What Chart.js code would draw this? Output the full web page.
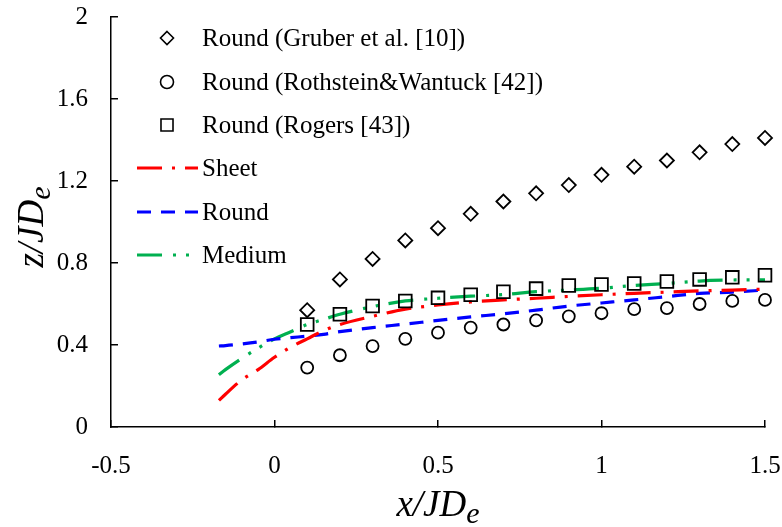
<!DOCTYPE html>
<html>
<head>
<meta charset="utf-8">
<script src="https://cdn.jsdelivr.net/npm/chart.js@4/dist/chart.umd.min.js"></script>
<style>
  html, body { margin: 0; padding: 0; background: #fff; }
  #wrap { width: 782px; height: 527px; }
</style>
</head>
<body>
<div id="wrap"><canvas id="chart"></canvas></div>
<script>
// measured points (x/JDe)
const refX = [0.1, 0.2, 0.3, 0.4, 0.5, 0.6, 0.7, 0.8, 0.9, 1.0, 1.1, 1.2, 1.3, 1.4, 1.5];
const gruber = [0.57, 0.72, 0.82, 0.91, 0.97, 1.04, 1.10, 1.14, 1.18, 1.23, 1.27, 1.30, 1.34, 1.38, 1.41];
const rothstein = [0.29, 0.35, 0.395, 0.43, 0.46, 0.485, 0.50, 0.52, 0.54, 0.555, 0.575, 0.58, 0.60, 0.615, 0.62];
const rogers = [0.50, 0.55, 0.59, 0.615, 0.63, 0.645, 0.66, 0.675, 0.69, 0.695, 0.70, 0.71, 0.72, 0.73, 0.74];

// simulated trajectories
const lineX = [-0.17, -0.15, -0.1, -0.05, 0, 0.05, 0.1, 0.15, 0.2, 0.3, 0.4, 0.5, 0.6, 0.7, 0.8, 0.9, 1.0, 1.1, 1.2, 1.3, 1.4, 1.5];
const sheet = [0.13, 0.16, 0.23, 0.28, 0.34, 0.39, 0.43, 0.47, 0.50, 0.54, 0.575, 0.595, 0.61, 0.62, 0.628, 0.637, 0.645, 0.652, 0.658, 0.664, 0.668, 0.672];
const round = [0.395, 0.397, 0.405, 0.415, 0.428, 0.436, 0.443, 0.452, 0.465, 0.485, 0.502, 0.52, 0.537, 0.552, 0.57, 0.59, 0.605, 0.62, 0.636, 0.652, 0.658, 0.668];
const medium = [0.255, 0.28, 0.335, 0.385, 0.43, 0.465, 0.50, 0.525, 0.55, 0.587, 0.615, 0.628, 0.638, 0.646, 0.66, 0.668, 0.677, 0.69, 0.70, 0.712, 0.717, 0.718];

const xTicks = [-0.5, 0, 0.5, 1, 1.5];
const yTicks = [0, 0.4, 0.8, 1.2, 1.6, 2];

const FONT = "'Liberation Serif', 'Times New Roman', serif";

function pts(xs, ys) {
  return xs.map((x, i) => ({ x: x, y: ys[i] }));
}

function markerSet(label, data, style, r) {
  return {
    label: label,
    data: pts(refX, data),
    showLine: false,
    pointStyle: style,
    pointRadius: r,
    pointHoverRadius: r,
    pointBorderColor: '#000',
    pointBackgroundColor: 'rgba(0,0,0,0)',
    pointBorderWidth: 1.8,
    clip: false
  };
}

function lineSet(label, data, color, dash) {
  return {
    label: label,
    data: pts(lineX, data),
    showLine: true,
    borderColor: color,
    borderWidth: 3.2,
    borderDash: dash,
    cubicInterpolationMode: 'monotone',
    pointRadius: 0,
    fill: false,
    clip: false
  };
}

function drawMarker(ctx, style, r, x, y) {
  ctx.beginPath();
  if (style === 'circle') {
    ctx.arc(x, y, r, 0, Math.PI * 2);
  } else if (style === 'rectRot') {
    ctx.moveTo(x, y - r); ctx.lineTo(x + r, y); ctx.lineTo(x, y + r); ctx.lineTo(x - r, y); ctx.closePath();
  } else {
    const h = r * Math.SQRT1_2;
    ctx.rect(x - h, y - h, h * 2, h * 2);
  }
  ctx.stroke();
}

// legend drawn inside the plot, upper left
const insideLegend = {
  id: 'insideLegend',
  afterDraw(chart) {
    const ctx = chart.ctx;
    ctx.save();
    ctx.font = '25px ' + FONT;
    ctx.textBaseline = 'middle';
    ctx.fillStyle = '#000';
    const rows = [38, 82, 125, 168, 212, 255];
    chart.data.datasets.forEach((ds, i) => {
      const y = rows[i];
      if (ds.showLine) {
        ctx.strokeStyle = ds.borderColor;
        ctx.lineWidth = ds.borderWidth;
        ctx.setLineDash(ds.borderDash);
        ctx.beginPath();
        ctx.moveTo(137, y);
        ctx.lineTo(198, y);
        ctx.stroke();
        ctx.setLineDash([]);
      } else {
        ctx.strokeStyle = '#000';
        ctx.lineWidth = 1.6;
        drawMarker(ctx, ds.pointStyle, ds.pointStyle === 'rect' ? 8.5 : 6.5, 167, y);
      }
      ctx.fillText(ds.label, 202, y + 1);
    });
    ctx.restore();
  }
};

// axis titles with subscript e
const axisTitles = {
  id: 'axisTitles',
  afterDraw(chart) {
    const ctx = chart.ctx;
    const a = chart.chartArea;
    ctx.save();
    ctx.fillStyle = '#000';
    ctx.textBaseline = 'alphabetic';
    const main = 'italic 37px ' + FONT;
    const sub = 'italic 30px ' + FONT;

    ctx.font = main;
    const wx = ctx.measureText('x/JD').width;
    ctx.font = sub;
    const we = ctx.measureText('e').width;
    let x0 = (a.left + a.right) / 2 - (wx + we) / 2;
    ctx.font = main;
    ctx.fillText('x/JD', x0, 516);
    ctx.font = sub;
    ctx.fillText('e', x0 + wx, 523);

    ctx.translate(43, (a.top + a.bottom) / 2 + 5);
    ctx.rotate(-Math.PI / 2);
    ctx.font = main;
    const wz = ctx.measureText('z/JD').width;
    x0 = -(wz + we) / 2;
    ctx.fillText('z/JD', x0, 0);
    ctx.font = sub;
    ctx.fillText('e', x0 + wz, 7);
    ctx.restore();
  }
};

const axisStyle = {
  border: { display: true, color: '#000', width: 1.5 },
  grid: { display: true, drawOnChartArea: false, drawTicks: true, tickLength: -7, color: '#000', lineWidth: 1.5 }
};

function noPad(s) {
  s.paddingLeft = 0;
  s.paddingRight = 0;
  s.paddingTop = 0;
  s.paddingBottom = 0;
}

new Chart(document.getElementById('chart'), {
  type: 'scatter',
  data: {
    datasets: [
      markerSet('Round (Gruber et al. [10])', gruber, 'rectRot', 7),
      markerSet('Round (Rothstein&Wantuck [42])', rothstein, 'circle', 6),
      markerSet('Round (Rogers [43])', rogers, 'rect', 9),
      lineSet('Sheet', sheet, '#ff0000', [25, 10, 3, 10]),
      lineSet('Round', round, '#0000ff', [14, 10]),
      lineSet('Medium', medium, '#00b050', [25, 11, 3, 10, 3, 10])
    ]
  },
  options: {
    responsive: true,
    maintainAspectRatio: false,
    animation: false,
    layout: { padding: { left: 0, top: 17, right: 17, bottom: 0 } },
    plugins: {
      legend: { display: false },
      tooltip: { enabled: false }
    },
    scales: {
      x: {
        type: 'linear',
        min: -0.5,
        max: 1.5,
        ...axisStyle,
        afterBuildTicks: s => { s.ticks = xTicks.map(v => ({ value: v })); },
        afterFit: s => { s.height = 100; noPad(s); },
        ticks: {
          color: '#000',
          padding: 31,
          maxRotation: 0,
          font: { family: FONT, size: 25 },
          callback: v => String(v)
        }
      },
      y: {
        type: 'linear',
        min: 0,
        max: 2,
        ...axisStyle,
        afterBuildTicks: s => { s.ticks = yTicks.map(v => ({ value: v })); },
        afterFit: s => { s.width = 111; noPad(s); },
        ticks: {
          color: '#000',
          padding: 30,
          font: { family: FONT, size: 25 },
          callback: v => String(v)
        }
      }
    }
  },
  plugins: [insideLegend, axisTitles]
});
</script>
</body>
</html>
